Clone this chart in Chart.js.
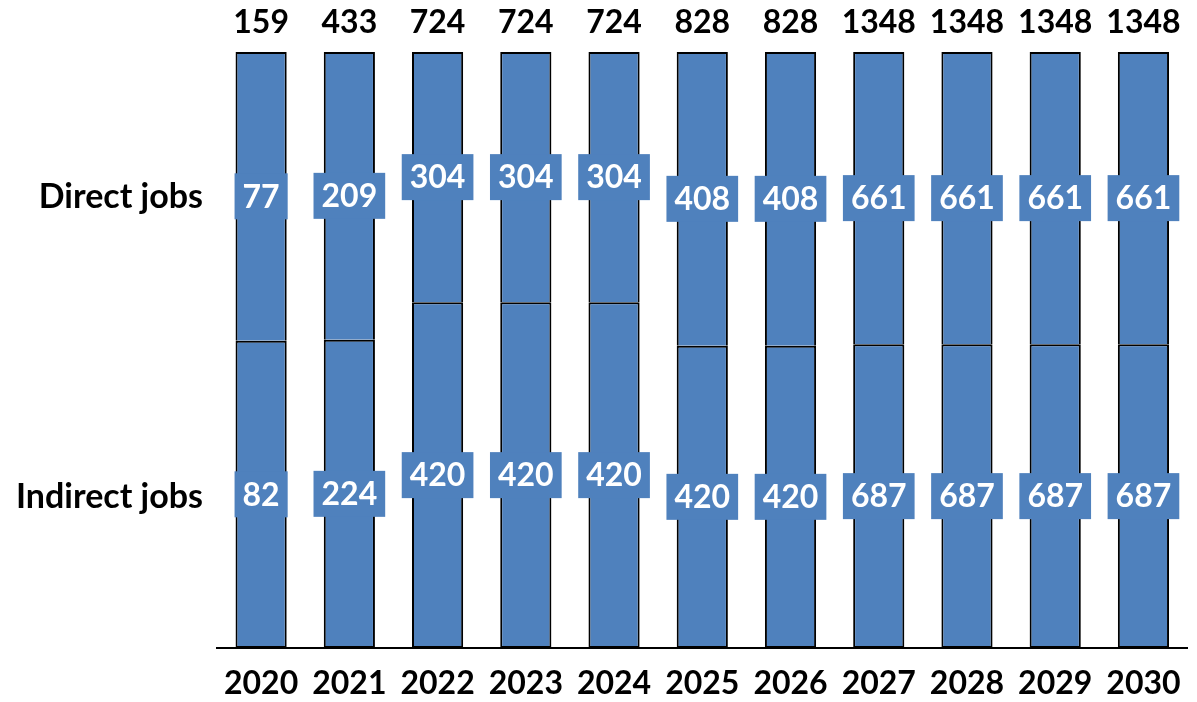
<!DOCTYPE html>
<html>
<head>
<meta charset="utf-8">
<title>Jobs 2020-2030</title>
<script src="https://cdn.jsdelivr.net/npm/chart.js@4.4.0/dist/chart.umd.min.js"></script>
<style>
  html, body { margin: 0; padding: 0; background: #fff; }
  #wrap { width: 1197px; height: 702px; }
</style>
</head>
<body>
<div id="wrap"><canvas id="jobsChart"></canvas></div>
<script>
  const years = ["2020", "2021", "2022", "2023", "2024", "2025", "2026", "2027", "2028", "2029", "2030"];
  const directJobs = [77, 209, 304, 304, 304, 408, 408, 661, 661, 661, 661];
  const indirectJobs = [82, 224, 420, 420, 420, 420, 420, 687, 687, 687, 687];
  const rowLabels = ["Direct jobs", "Indirect jobs"];

  const totals = directJobs.map((d, i) => d + indirectJobs[i]);
  const directShare = directJobs.map((d, i) => d / totals[i] * 100);
  const indirectShare = indirectJobs.map((d, i) => d / totals[i] * 100);

  const barBlue = "#4F81BD";
  const axisFont = { family: "Lato", size: 32, weight: "bold" };

  // white numbers on a blue box, centred in each segment
  const segmentLabels = {
    id: "segmentLabels",
    afterDatasetsDraw(chart) {
      const ctx = chart.ctx;
      ctx.save();
      ctx.font = "bold 32px Lato";
      ctx.textAlign = "center";
      ctx.textBaseline = "middle";
      chart.data.datasets.forEach((ds, di) => {
        chart.getDatasetMeta(di).data.forEach((bar, i) => {
          const text = String(ds.counts[i]);
          const cy = (bar.y + bar.base) / 2;
          const w = ctx.measureText(text).width + 16;
          const h = 46;
          ctx.fillStyle = barBlue;
          ctx.fillRect(bar.x - w / 2, cy - h / 2, w, h);
          ctx.fillStyle = "#fff";
          ctx.fillText(text, bar.x, cy + 1);
        });
      });
      ctx.restore();
    }
  };

  new Chart(document.getElementById("jobsChart"), {
    type: "bar",
    data: {
      labels: years,
      datasets: [
        {
          label: "Indirect jobs",
          data: indirectShare,
          counts: indirectJobs,
          backgroundColor: barBlue,
          borderColor: "#000",
          borderWidth: { left: 2, right: 2, top: 2, bottom: 2 },
          borderSkipped: false
        },
        {
          label: "Direct jobs",
          data: directShare,
          counts: directJobs,
          backgroundColor: barBlue,
          borderColor: "#000",
          borderWidth: { left: 2, right: 2, top: 2, bottom: 0 },
          borderSkipped: false
        }
      ]
    },
    options: {
      responsive: true,
      maintainAspectRatio: false,
      animation: false,
      layout: { padding: 0 },
      categoryPercentage: 1,
      barPercentage: 0.58,
      plugins: {
        legend: { display: false },
        tooltip: { enabled: false }
      },
      scales: {
        x: {
          stacked: true,
          grid: { display: false, drawTicks: false },
          border: { display: true, color: "#000", width: 2 },
          ticks: { color: "#000", font: axisFont, padding: 16, autoSkip: false, maxRotation: 0 },
          afterFit: (scale) => { scale.height = 54; }
        },
        totals: {
          type: "category",
          position: "top",
          labels: totals.map(String),
          offset: true,
          grid: { display: false, drawTicks: false },
          border: { display: false },
          ticks: { color: "#000", font: axisFont, padding: 10, autoSkip: false, maxRotation: 0 },
          afterFit: (scale) => { scale.height = 52; }
        },
        y: {
          stacked: true,
          min: 0,
          max: 100,
          grid: { display: false, drawTicks: false },
          border: { display: false },
          afterBuildTicks: (scale) => { scale.ticks = [{ value: 25.3 }, { value: 75.7 }]; },
          ticks: {
            color: "#000",
            font: { family: "Lato", size: 34, weight: "bold" },
            padding: 14,
            callback: (value) => value > 50 ? rowLabels[0] : rowLabels[1]
          },
          afterFit: (scale) => { scale.width = 217; }
        }
      }
    },
    plugins: [segmentLabels]
  });
</script>
</body>
</html>
